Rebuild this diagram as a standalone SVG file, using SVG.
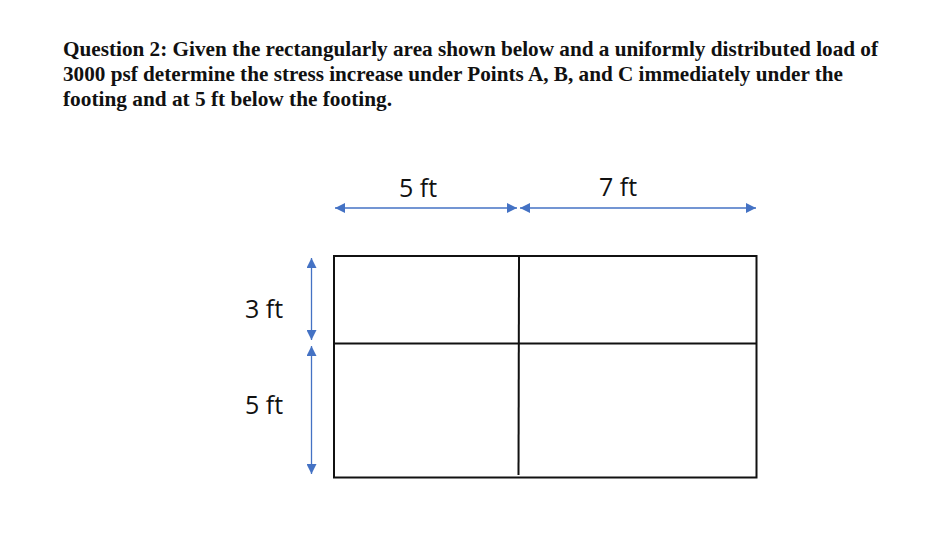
<svg xmlns="http://www.w3.org/2000/svg" width="951" height="544" viewBox="0 0 951 544">
<style>
.q{font-family:"Liberation Serif","Times New Roman",serif;font-weight:bold;font-size:21.5px;fill:#111}
.lbl{font-family:"Open Sans","Liberation Sans",sans-serif;font-size:25px;fill:#111}
.dim{stroke:#4472C4;stroke-width:1.3;fill:none}
.edge{stroke:#111;stroke-width:2;fill:none}
</style>
<defs>
<marker id="ah" viewBox="0 0 10 10" refX="10" refY="5" markerWidth="10" markerHeight="10" markerUnits="userSpaceOnUse" orient="auto-start-reverse">
<path d="M0,0 L10,5 L0,10 z" fill="#4472C4"/>
</marker>
</defs>
<rect width="951" height="544" fill="#fff"/>
<g id="question">
<text class="q" x="63" y="56" textLength="815" lengthAdjust="spacingAndGlyphs">Question 2: Given the rectangularly area shown below and a uniformly distributed load of</text>
<text class="q" x="63" y="81" textLength="780" lengthAdjust="spacingAndGlyphs">3000 psf determine the stress increase under Points A, B, and C immediately under the</text>
<text class="q" x="63" y="106" textLength="329" lengthAdjust="spacingAndGlyphs">footing and at 5 ft below the footing.</text>
</g>
<g id="footing">
<rect class="edge" x="334" y="256" width="422.5" height="221.5"/>
<line class="edge" x1="334" y1="343.5" x2="756.5" y2="343.5"/>
<line class="edge" x1="519" y1="256" x2="518.5" y2="475"/>
</g>
<g id="connectors">
<line class="dim" x1="335" y1="208" x2="517" y2="208" marker-start="url(#ah)" marker-end="url(#ah)"/>
<line class="dim" x1="520" y1="208" x2="756" y2="208" marker-start="url(#ah)" marker-end="url(#ah)"/>
<line class="dim" x1="311.5" y1="258" x2="311.5" y2="340" marker-start="url(#ah)" marker-end="url(#ah)"/>
<line class="dim" x1="311.5" y1="346" x2="311.5" y2="474" marker-start="url(#ah)" marker-end="url(#ah)"/>
</g>
<g id="labels">
<text class="lbl" x="418" y="197" text-anchor="middle">5 ft</text>
<text class="lbl" x="618" y="196" text-anchor="middle">7 ft</text>
<text class="lbl" x="264" y="318" text-anchor="middle">3 ft</text>
<text class="lbl" x="264" y="414" text-anchor="middle">5 ft</text>
</g>
</svg>
